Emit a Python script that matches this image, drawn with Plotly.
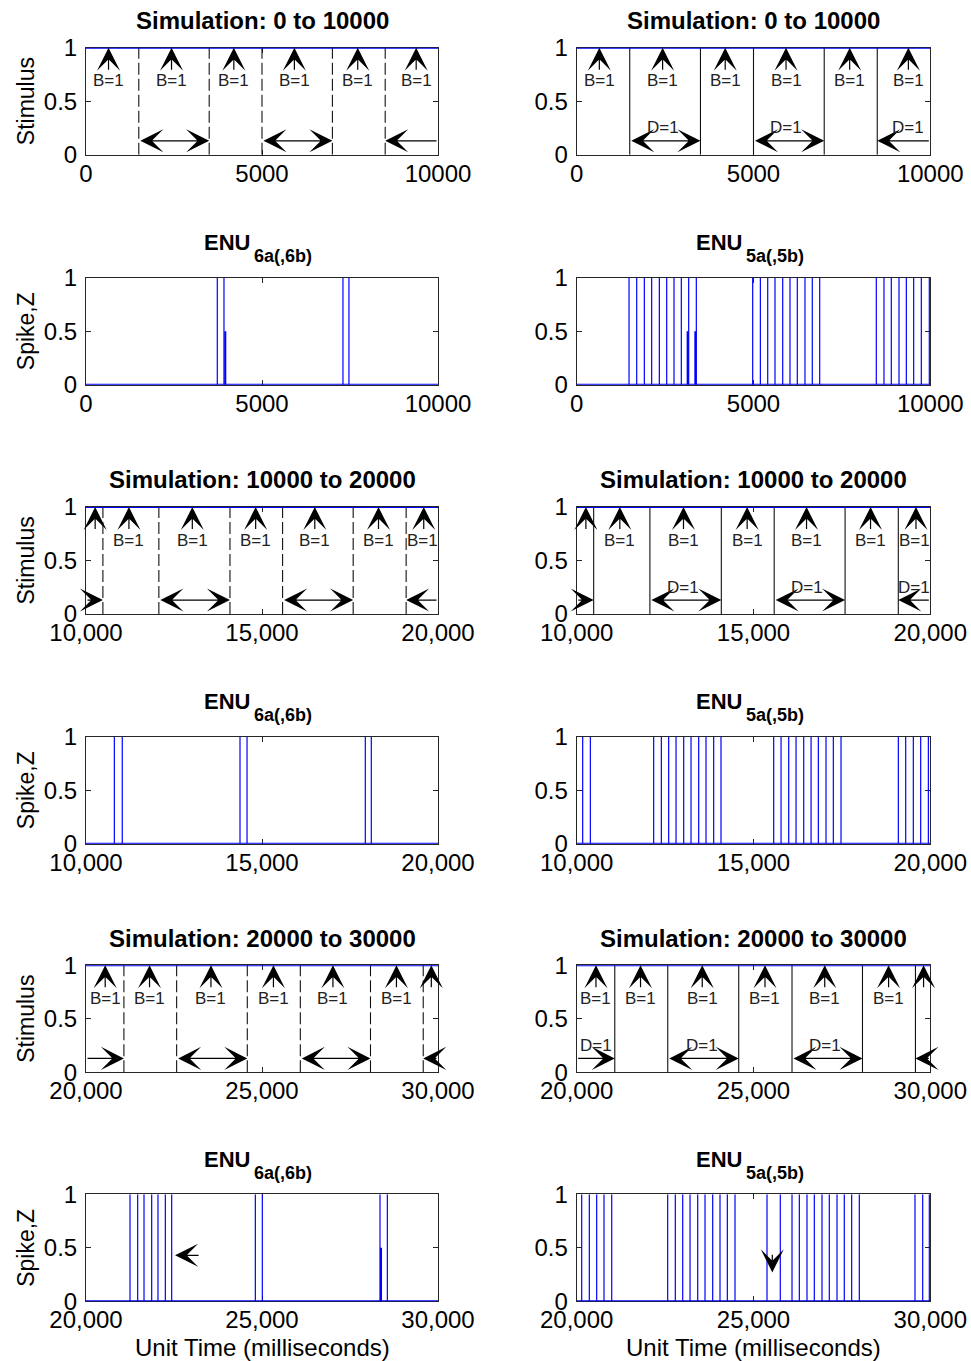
import plotly.graph_objects as go

FONT = "Liberation Sans, Arial, sans-serif"
W, H = 971, 1361

# ---- data -------------------------------------------------------------
WINDOWS = [(0, 10000), (10000, 20000), (20000, 30000)]
X_TICK_VALS = [[0, 5000, 10000], [10000, 15000, 20000], [20000, 25000, 30000]]
X_TICK_TEXT = [["0", "5000", "10000"],
               ["10,000", "15,000", "20,000"],
               ["20,000", "25,000", "30,000"]]
Y_TICK_VALS = [0, 0.5, 1]
Y_TICK_TEXT = ["0", "0.5", "1"]

STIM_LEVEL = 1  # stimulus B is held at 1 throughout

# D stimulus on-periods (ms)
D_START = [1500, 5000, 8500, 12070, 15585, 19095, 22575, 26089, 29580]
D_END = [3500, 7000, 10480, 14090, 17590, 21077, 24582, 28082, 31580]

# B pulse times (ms)
B_TIMES = [640, 2430, 4200, 5920, 7720, 9380,
           10260, 11220, 13020, 14820, 16500, 18310, 19595,
           20545, 21805, 23550, 25325, 27015, 28820, 29810]

# ENU 6a(,6b): spike times (height 1) and Z events (height 0.5)
SPIKE_6 = [3730, 3920, 7300, 7470,
           10805, 11030, 14375, 14575, 17935, 18105,
           21250, 21468, 21648, 21866, 22045, 22254, 22434, 24811, 25009,
           28352, 28561]
Z_6 = [3957, 28381]

# ENU 5a(,5b): spike times and Z events
SPIKE_5 = [1480, 1697, 1913, 2120, 2337, 2545, 2752, 2959, 3167, 3383,
           4977, 5194, 5402, 5608, 5826, 6032, 6239, 6456, 6663, 6872,
           8473, 8690, 8897, 9115, 9322, 9530, 9746, 9972,
           10169, 10386,
           12177, 12394, 12601, 12809, 13026, 13233, 13450, 13657, 13874, 14081,
           15571, 15779, 15996, 16203, 16420, 16628, 16834, 17051, 17258, 17475,
           19096, 19304, 19520, 19728, 19945,
           20141, 20357, 20565, 20772, 20990,
           22573, 22789, 22998, 23205, 23422, 23629, 23846, 24053, 24260, 24477,
           25382, 25758,
           26089, 26296, 26513, 26720, 26937, 27144, 27362, 27568, 27776, 27993,
           29567, 29785, 29972]
Z_5 = [3138, 3355]

ENU_SUBSCRIPTS = ["6a(,6b)", "5a(,5b)"]
SPIKE_SETS = [(SPIKE_6, Z_6), (SPIKE_5, Z_5)]

# pointer arrows in the last spike row: (head x, head y, tail x, tail y)
POINTERS = [[(22530, 0.43, 23240, 0.43)],
            [(25532, 0.27, 25532, 0.45)]]

# ---- layout geometry (pixels) -----------------------------------------
COL_X = [(86.0, 438.0), (576.7, 930.3)]
ROW_TOP = [47.7, 277.7, 507.0, 736.7, 965.3, 1194.3]
PANEL_H = 107.0

BLUE = "#0000ff"
INK = "#111111"
AXIS_COLOR = "#262626"

axis_common = dict(
    showline=True, linecolor=AXIS_COLOR, linewidth=1, mirror="ticks",
    ticks="inside", ticklen=5, tickcolor=AXIS_COLOR, tickwidth=1,
    showgrid=False, zeroline=False, layer="below traces", automargin=False,
    tickfont=dict(family=FONT, size=24, color="black"),
)

fig = go.Figure()
layout = dict(width=W, height=H, margin=dict(l=0, r=0, t=0, b=0, pad=0),
              autosize=False,
              paper_bgcolor="white", plot_bgcolor="white", showlegend=False)
annotations = []


def px(p):
    return p / W


def py(p):
    return 1 - p / H


def arrow(xr, yr, hx, hy, tx, ty, double=False):
    a = dict(x=hx, y=hy, ax=tx, ay=ty, xref=xr, yref=yr, axref=xr, ayref=yr,
             text="", showarrow=True, arrowhead=3, arrowsize=3.2,
             arrowwidth=1.2, arrowcolor="black", standoff=0)
    if double:
        a.update(arrowside="end+start", startarrowhead=3, startarrowsize=3.2,
                 startstandoff=0)
    return a


def label(xr, yr, x, y, text):
    return dict(x=x, y=y, xref=xr, yref=yr, text=text, showarrow=False,
                xanchor="center", yanchor="middle",
                font=dict(family=FONT, size=17, color="#222222"))


idx = 0
for r in range(6):
    w = r // 2
    t0, t1 = WINDOWS[w]
    is_stim = r % 2 == 0
    top = ROW_TOP[r]
    for c in range(2):
        idx += 1
        sfx = "" if idx == 1 else str(idx)
        xr, yr = "x" + sfx, "y" + sfx
        x0p, x1p = COL_X[c]
        cx = (x0p + x1p) / 2
        layout["xaxis" + sfx] = dict(
            domain=[px(x0p), px(x1p)], range=[t0, t1], anchor=yr,
            tickvals=X_TICK_VALS[w], ticktext=X_TICK_TEXT[w],
            ticklabelstandoff=-3, **axis_common)
        layout["yaxis" + sfx] = dict(
            domain=[py(top + PANEL_H), py(top)], range=[0, 1], anchor=xr,
            tickvals=Y_TICK_VALS, ticktext=Y_TICK_TEXT,
            ticklabelstandoff=3, **axis_common)

        if is_stim:
            bounds = sorted(v for v in D_START + D_END if t0 < v < t1)
            sx, sy = [], []
            for b in bounds:
                sx += [b, b, None]
                sy += [0, 1, None]
            fig.add_trace(go.Scatter(
                x=sx, y=sy, xaxis=xr, yaxis=yr, mode="lines", hoverinfo="skip",
                line=dict(color=INK, width=1.1,
                          dash="12px,4px" if c == 0 else "solid")))
            fig.add_trace(go.Scatter(
                x=[t0, t1], y=[STIM_LEVEL, STIM_LEVEL], xaxis=xr, yaxis=yr,
                mode="lines", line=dict(color=BLUE, width=2), hoverinfo="skip"))

            edges = [t0] + bounds + [t1]
            segs = list(zip(edges[:-1], edges[1:]))
            seg_is_d = []
            for a, b in segs:
                d = [(s, e) for s, e in zip(D_START, D_END) if s < b and e > a]
                seg_is_d.append(bool(d))
                if not d:
                    continue
                s, e = d[0]
                ya = 0.13
                if s < t0:
                    annotations.append(arrow(xr, yr, b, ya, a, ya))
                elif e > t1:
                    annotations.append(arrow(xr, yr, a, ya, b, ya))
                else:
                    annotations.append(arrow(xr, yr, b, ya, a, ya, double=True))

            for bt in B_TIMES:
                if not (t0 <= bt < t1):
                    continue
                annotations.append(arrow(xr, yr, bt, STIM_LEVEL, bt, 0.78))
                k = next(i for i, (a, b) in enumerate(segs) if a <= bt < b)
                a, b = segs[k]
                if b - a < 600:
                    continue
                lx = min(max(bt, t0 + 450), t1 - 450)
                annotations.append(label(xr, yr, lx, 0.69, "B=1"))
                if c == 1 and seg_is_d[k]:
                    annotations.append(label(xr, yr, lx, 0.25, "D=1"))

            annotations.append(dict(
                x=px(cx), y=py(top - 27), xref="paper", yref="paper",
                text=f"<b>Simulation: {t0} to {t1}</b>", showarrow=False,
                xanchor="center", yanchor="middle",
                font=dict(family=FONT, size=24, color="black")))
        else:
            spikes, zs = SPIKE_SETS[c]
            sx, sy = [], []
            for s in spikes:
                if t0 <= s <= t1:
                    sx += [s, s, None]
                    sy += [0, 1, None]
            fig.add_trace(go.Scatter(
                x=sx, y=sy, xaxis=xr, yaxis=yr, mode="lines", hoverinfo="skip",
                line=dict(color=BLUE, width=1.2)))
            zx, zy = [], []
            for z in zs:
                if t0 <= z <= t1:
                    zx += [z, z, None]
                    zy += [0, 0.5, None]
            if zx:
                fig.add_trace(go.Scatter(
                    x=zx, y=zy, xaxis=xr, yaxis=yr, mode="lines",
                    hoverinfo="skip", line=dict(color=BLUE, width=2)))
            fig.add_trace(go.Scatter(
                x=[t0, t1], y=[0, 0], xaxis=xr, yaxis=yr, mode="lines",
                line=dict(color=BLUE, width=2), hoverinfo="skip"))
            if r == 5:
                for hx, hy, tx, ty in POINTERS[c]:
                    annotations.append(arrow(xr, yr, hx, hy, tx, ty))

            annotations.append(dict(
                x=px(cx - 10), y=py(top - 35), xref="paper", yref="paper",
                text="<b>ENU</b>", showarrow=False, xanchor="right",
                yanchor="middle", font=dict(family=FONT, size=22, color="black")))
            annotations.append(dict(
                x=px(cx - 10), y=py(top - 21.5), xref="paper", yref="paper",
                text=f"<b>{ENU_SUBSCRIPTS[c]}</b>", showarrow=False,
                xanchor="left", yanchor="middle",
                font=dict(family=FONT, size=18, color="black")))

        if c == 0:
            annotations.append(dict(
                x=px(26), y=py(top + PANEL_H / 2), xref="paper", yref="paper",
                text="Stimulus" if is_stim else "Spike,Z", showarrow=False,
                textangle=-90, xanchor="center", yanchor="middle",
                font=dict(family=FONT, size=23, color="black")))
        if r == 5:
            annotations.append(dict(
                x=px(cx), y=py(1347), xref="paper", yref="paper",
                text="Unit Time (milliseconds)", showarrow=False,
                xanchor="center", yanchor="middle",
                font=dict(family=FONT, size=24, color="black")))

layout["annotations"] = annotations
fig.update_layout(**layout)
fig.write_html("out.html", config={"responsive": False})
